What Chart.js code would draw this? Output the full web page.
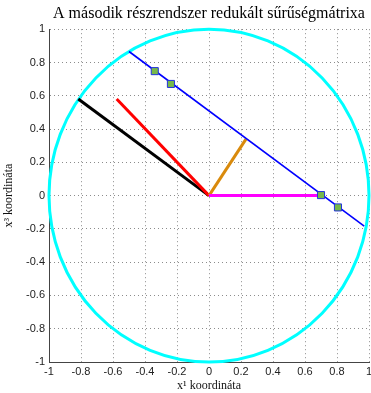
<!DOCTYPE html>
<html>
<head>
<meta charset="utf-8">
<script src="https://cdn.jsdelivr.net/npm/chart.js@4/dist/chart.umd.min.js"></script>
<style>
  html, body { margin: 0; padding: 0; background: #fff; }
  #wrap { width: 371px; height: 393px; }
</style>
</head>
<body>
<div id="wrap"><canvas id="chart"></canvas></div>
<script>
const tickLabels = ['-1', '-0.8', '-0.6', '-0.4', '-0.2', '0', '0.2', '0.4', '0.6', '0.8', '1'];

// unit circle (center, radius)
const circleCenter = [0, 0];
const circleRadius = 1;

// chord through the circle
const chordX = [-0.5, 0.97];
const chordY = [0.866, -0.183];

// vectors from the origin
const blackX = [0, -0.817];
const blackY = [0, 0.581];
const redX = [0, -0.577];
const redY = [0, 0.581];
const orangeX = [0, 0.231];
const orangeY = [0, 0.339];
const magentaX = [0, 0.70];
const magentaY = [0, 0];

// square markers on the chord
const markX = [-0.339, -0.238, 0.70, 0.806];
const markY = [0.748, 0.671, 0.003, -0.071];

const pts = (xs, ys) => xs.map((x, i) => ({ x, y: ys[i] }));

const circlePlugin = {
  id: 'unitCircle',
  beforeDatasetsDraw(chart) {
    const { ctx, scales: { x, y } } = chart;
    const cx = x.getPixelForValue(circleCenter[0]);
    const cy = y.getPixelForValue(circleCenter[1]);
    const rx = Math.abs(x.getPixelForValue(circleCenter[0] + circleRadius) - cx);
    const ry = Math.abs(y.getPixelForValue(circleCenter[1] + circleRadius) - cy);
    ctx.save();
    ctx.strokeStyle = '#00FFFF';
    ctx.lineWidth = 3;
    ctx.beginPath();
    ctx.ellipse(cx, cy, rx, ry, 0, 0, Math.PI * 2);
    ctx.stroke();
    ctx.restore();
  },
};

function lineSet(xs, ys, color, width) {
  return {
    data: pts(xs, ys),
    showLine: true,
    borderColor: color,
    borderWidth: width,
    pointRadius: 0,
    fill: false,
  };
}

const tickFont = { family: 'Liberation Sans, Arial, sans-serif', size: 11 };
const labelFont = { family: 'Liberation Serif, Times New Roman, serif', size: 12 };

function axis(title, isX) {
  return {
    type: 'linear',
    min: -1,
    max: 1,
    ticks: {
      stepSize: 0.2,
      color: '#222',
      font: tickFont,
      padding: isX ? 3 : 4,
      callback: (v, i) => tickLabels[i],
    },
    grid: {
      color: 'rgba(0,0,0,0.45)',
      lineWidth: 1,
      drawTicks: false,
    },
    border: { display: true, color: '#444', width: 1, dash: [1, 3] },
    title: {
      display: true,
      text: title,
      color: '#111',
      font: labelFont,
      padding: isX ? { top: 0, bottom: 0 } : { top: 2, bottom: 0 },
    },
    afterFit(scale) {
      if (isX) {
        scale.height = 31;
        scale.paddingLeft = 0;
        scale.paddingRight = 0;
      } else {
        scale.width = 49;
        scale.paddingTop = 0;
        scale.paddingBottom = 0;
      }
    },
  };
}

new Chart(document.getElementById('chart'), {
  type: 'scatter',
  data: {
    datasets: [
      {
        data: pts(markX, markY),
        pointStyle: 'rect',
        pointRadius: 5,
        pointBackgroundColor: '#77B84A',
        pointBorderColor: '#2233DD',
        pointBorderWidth: 1,
        showLine: false,
      },
      lineSet(chordX, chordY, '#0000FF', 1.6),
      lineSet(magentaX, magentaY, '#FF00FF', 3),
      lineSet(orangeX, orangeY, '#D98A0C', 3),
      lineSet(redX, redY, '#FF0000', 3),
      lineSet(blackX, blackY, '#000000', 3),
    ],
  },
  options: {
    responsive: true,
    maintainAspectRatio: false,
    animation: false,
    layout: { autoPadding: false, padding: { right: 2, left: 0, top: 0, bottom: 0 } },
    plugins: {
      legend: { display: false },
      tooltip: { enabled: false },
      title: {
        display: true,
        fullSize: false,
        text: 'A második részrendszer redukált sűrűségmátrixa',
        color: '#000',
        font: { family: 'Liberation Serif, Times New Roman, serif', size: 16, weight: 'normal' },
        padding: { top: 4, bottom: 6 },
      },
    },
    scales: {
      x: axis('x¹ koordináta', true),
      y: axis('x³ koordináta', false),
    },
  },
  plugins: [circlePlugin],
});
</script>
</body>
</html>
